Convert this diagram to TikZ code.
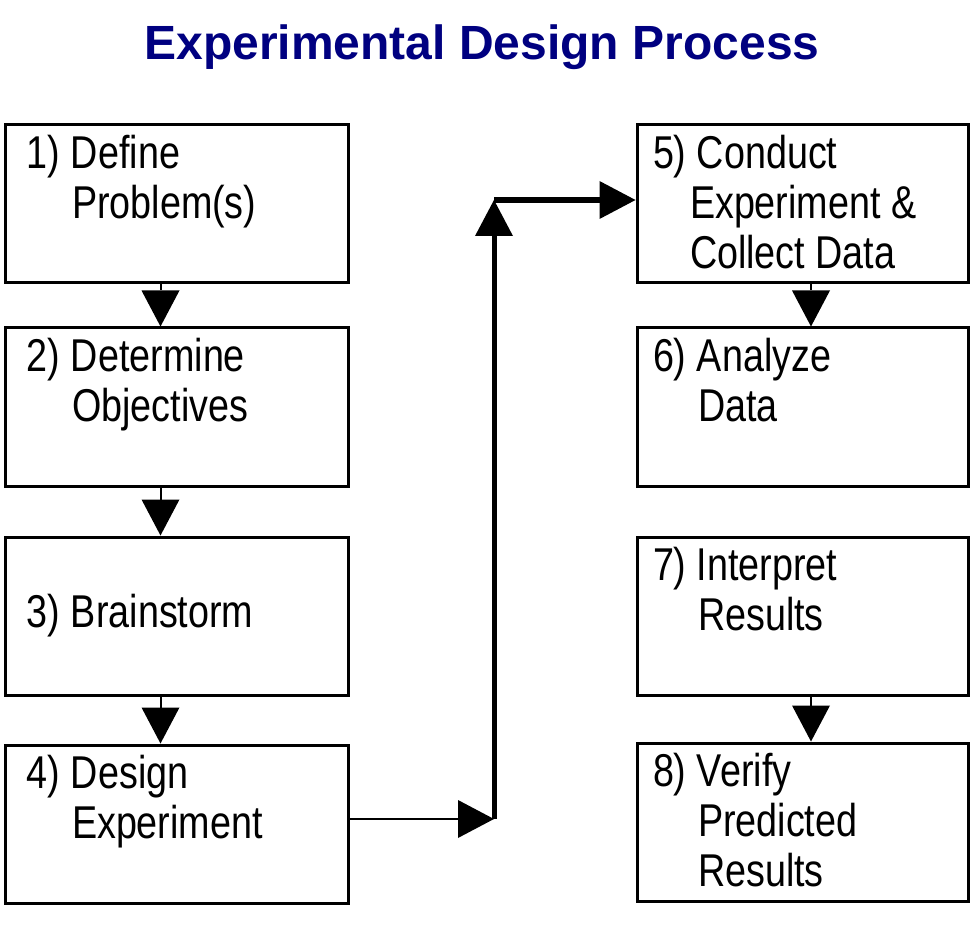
\documentclass[tikz,border=0pt]{standalone}
\usepackage{fontspec}
\setmainfont{Liberation Sans}
\newfontfamily\boxfont[FakeStretch=0.82]{Liberation Sans}
\usetikzlibrary{positioning}
\usetikzlibrary{arrows.meta}
\definecolor{titleblue}{RGB}{0,0,128}
\tikzset{
  stepbox/.style={draw, line width=3pt, inner xsep=16pt, inner ysep=10pt,
    minimum height=158pt, font=\boxfont\fontsize{46}{50}\selectfont},
  leftbox/.style={stepbox, minimum width=343pt},
  rightbox/.style={stepbox, minimum width=331pt},
  flow/.style={-{Triangle[length=36pt,width=38pt,line width=0pt]}, line width=2pt},
}
\newcommand{\steptext}[2][t]{\parbox[c][138pt][#1]{299pt}{#2}}
\newcommand{\subline}[2][45pt]{\\\hspace*{#1}#2}

\begin{document}
\begin{tikzpicture}[x=1pt, y=-1pt]
    \useasboundingbox (0,0) rectangle (978,933);
    \node (title) [anchor=base, text=titleblue, font=\bfseries\fontsize{48}{56}\selectfont]
        at (482,60) {Experimental Design Process};

    % left column
    \node (define)     [leftbox] at (176.5,204)         {\steptext{1) Define\subline{Problem(s)}}};
    \node (objectives) [leftbox, below=42pt of define]   {\steptext{2) Determine\subline{Objectives}}};
    \node (brainstorm) [leftbox, below=48pt of objectives] {\steptext[c]{3) Brainstorm}};
    \node (design)     [leftbox, below=47pt of brainstorm] {\steptext{4) Design\subline{Experiment}}};

    % right column
    \node (conduct)   [rightbox] at (802.5,204)          {\steptext{5) Conduct\subline[37pt]{Experiment \&}\subline[37pt]{Collect Data}}};
    \node (analyze)   [rightbox, below=42pt of conduct]   {\steptext{6) Analyze\subline{Data}}};
    \node (interpret) [rightbox, below=48pt of analyze]   {\steptext{7) Interpret\subline{Results}}};
    \node (verify)    [rightbox, below=45pt of interpret] {\steptext{8) Verify\subline{Predicted}\subline{Results}}};

    \draw[flow] ([xshift=-16pt]define.south)     -- ([xshift=-16pt]objectives.north);
    \draw[flow] ([xshift=-16pt]objectives.south) -- ([xshift=-16pt]brainstorm.north);
    \draw[flow] ([xshift=-16pt]brainstorm.south) -- ([xshift=-16pt]design.north);
    \draw[flow] ([xshift=8.5pt]conduct.south)    -- ([xshift=8.5pt]analyze.north);
    \draw[flow] ([xshift=8.5pt]interpret.south)  -- ([xshift=8.5pt]verify.north);

    % link between the columns
    \coordinate (lowturn)  at (494,819);
    \coordinate (highturn) at (494,200);
    \draw[flow] (design.east |- lowturn) -- (lowturn);
    \draw[flow, line width=5pt] (lowturn) -- (highturn);
    \draw[flow, line width=6pt] (highturn) -- (highturn -| conduct.west);
\end{tikzpicture}
\end{document}
